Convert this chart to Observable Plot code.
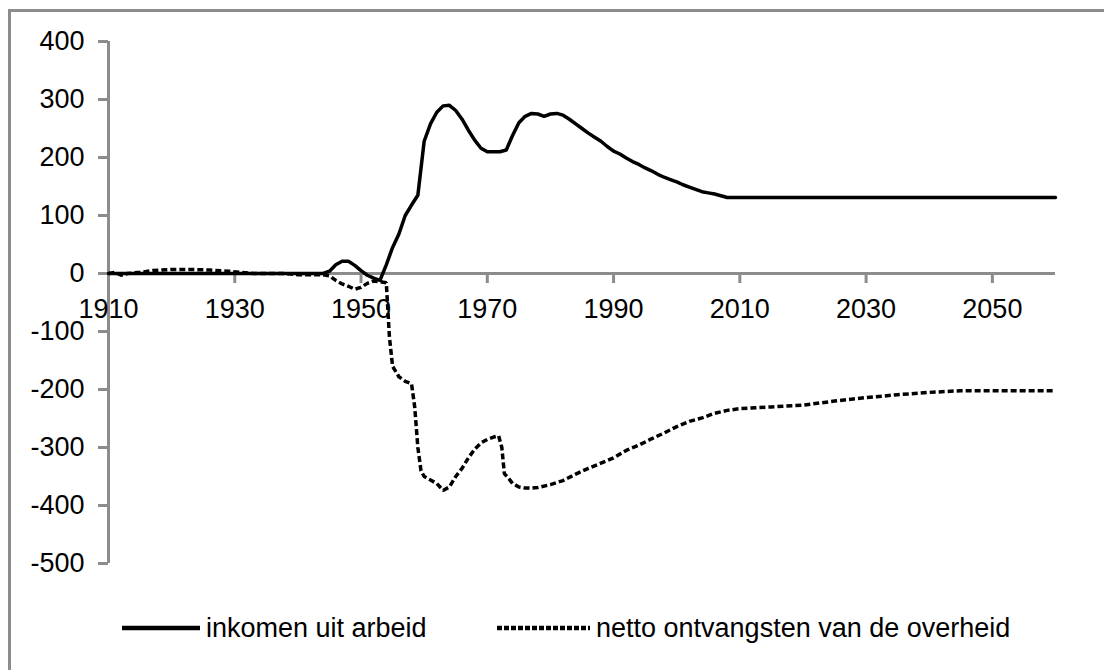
<!DOCTYPE html>
<html>
<head>
<meta charset="utf-8">
<script src="https://cdn.jsdelivr.net/npm/d3@7"></script>
<script src="https://cdn.jsdelivr.net/npm/@observablehq/plot@0.6"></script>
<style>
  html, body { margin: 0; padding: 0; background: #fff; }
  #wrap { position: relative; width: 1104px; height: 670px; overflow: hidden; font-family: "Liberation Sans", Arial, sans-serif; }
  #frame { position: absolute; left: 8px; top: 9px; right: -10px; bottom: -10px; border-top: 3px solid #8c8c8c; border-left: 3px solid #8c8c8c; }
  #chart { position: absolute; left: 0; top: 0; }
  #legend { position: absolute; left: 0; top: 610px; width: 1104px; height: 36px; font-size: 27px; color: #000; }
  .item { position: absolute; top: 0; height: 36px; display: flex; align-items: center; }
  .swatch { display: block; margin-right: 6px; }
</style>
</head>
<body>
<div id="wrap">
  <div id="frame"></div>
  <div id="chart"></div>
  <div id="legend"></div>
</div>
<script>
const xTicks = [1910, 1930, 1950, 1970, 1990, 2010, 2030, 2050];
const yTicks = [-500, -400, -300, -200, -100, 0, 100, 200, 300, 400];
const seriesNames = ["inkomen uit arbeid", "netto ontvangsten van de overheid"];

const arbeidYears = [1910,1920,1930,1940,1944,1945,1946,1947,1948,1949,1950,1951,1952,1953,1954,1955,1956,1957,1958,1959,1960,1961,1962,1963,1964,1965,1966,1967,1968,1969,1970,1971,1972,1973,1974,1975,1976,1977,1978,1979,1980,1981,1982,1983,1984,1985,1986,1987,1988,1989,1990,1991,1992,1993,1994,1995,1996,1997,1998,1999,2000,2001,2002,2003,2004,2005,2006,2007,2008,2060];
const arbeidValues = [0,0,0,0,0,4,15,21,21,14,5,-3,-8,-12,15,45,68,100,118,135,228,258,278,289,290,281,266,247,230,216,210,210,210,213,238,260,271,276,275,271,275,276,273,266,258,250,242,235,228,219,211,206,199,193,188,182,177,171,166,162,158,153,149,145,141,139,137,134,131,131];

const overheidYears = [1910,1911,1912,1913,1915,1917,1920,1923,1926,1929,1931,1933,1938,1940,1944,1945,1946,1947,1948,1949,1950,1951,1952,1953,1954,1954.5,1955,1956,1957,1958,1958.5,1959,1959.5,1960,1961,1962,1963,1964,1965,1966,1967,1968,1969,1970,1971,1971.8,1972.3,1972.7,1973.5,1974,1975,1976,1977,1978,1980,1982,1984,1986,1988,1990,1992,1994,1996,1998,2000,2002,2004,2006,2008,2010,2015,2020,2025,2030,2035,2040,2045,2060];
const overheidValues = [0,2,-3,0,2,5,7,7,6,4,2,0,0,-2,-2,-4,-12,-18,-22,-27,-24,-17,-13,-14,-16,-110,-160,-178,-186,-190,-230,-300,-340,-350,-356,-362,-374,-368,-350,-336,-318,-303,-292,-286,-282,-280,-300,-345,-355,-362,-368,-370,-370,-369,-364,-357,-346,-336,-327,-318,-305,-296,-285,-275,-264,-255,-249,-241,-236,-233,-230,-227,-220,-214,-209,-205,-202,-202];

const arbeid = arbeidYears.map((x, i) => ({x, y: arbeidValues[i]}));
const overheid = overheidYears.map((x, i) => ({x, y: overheidValues[i]}));

const gray = "#8c8c8c";
const dash = "6,3";

const plot = Plot.plot({
  width: 1104,
  height: 600,
  marginLeft: 108,
  marginRight: 49,
  marginTop: 41,
  marginBottom: 37,
  style: {fontFamily: '"Liberation Sans", Arial, sans-serif', color: "#000", background: "transparent", overflow: "visible"},
  x: {domain: [1910, 2060], axis: null},
  y: {domain: [-500, 400], axis: null},
  marks: [
    Plot.axisY({ticks: yTicks, tickSize: 10, tickPadding: 14, stroke: gray, strokeWidth: 3, fill: "#000", fontSize: 27, label: null, tickFormat: d => String(d)}),
    Plot.ruleX([1910], {y1: -500, y2: 400, stroke: gray, strokeWidth: 3}),
    Plot.ruleY([0], {x1: 1910, x2: 2060, stroke: gray, strokeWidth: 3}),
    Plot.ruleX(xTicks, {x: d => d, y1: 0, y2: 0, insetBottom: -10, stroke: gray, strokeWidth: 3}),
    Plot.text(xTicks, {x: d => d, y: 0, dy: 36, text: d => String(d), fontSize: 27, fill: "#000"}),
    Plot.line(arbeid, {x: "x", y: "y", stroke: "#000", strokeWidth: 3.5}),
    Plot.line(overheid, {x: "x", y: "y", stroke: "#000", strokeWidth: 3.5, strokeDasharray: dash, strokeLinecap: "butt", strokeLinejoin: "miter"})
  ]
});
document.getElementById("chart").appendChild(plot);

const legend = document.getElementById("legend");
const items = [
  {name: seriesNames[0], left: 122, w: 78, dashed: false},
  {name: seriesNames[1], left: 497, w: 93, dashed: true}
];
const NS = "http://www.w3.org/2000/svg";
for (const it of items) {
  const d = document.createElement("div");
  d.className = "item";
  d.style.left = it.left + "px";
  const s = document.createElementNS(NS, "svg");
  s.setAttribute("class", "swatch");
  s.setAttribute("width", it.w);
  s.setAttribute("height", 8);
  const l = document.createElementNS(NS, "line");
  l.setAttribute("x1", 0); l.setAttribute("x2", it.w);
  l.setAttribute("y1", 4); l.setAttribute("y2", 4);
  l.setAttribute("stroke", "#000");
  l.setAttribute("stroke-width", 4.5);
  if (it.dashed) l.setAttribute("stroke-dasharray", "5,2");
  s.appendChild(l);
  d.appendChild(s);
  const t = document.createElement("span");
  t.textContent = it.name;
  d.appendChild(t);
  legend.appendChild(d);
}
</script>
</body>
</html>
